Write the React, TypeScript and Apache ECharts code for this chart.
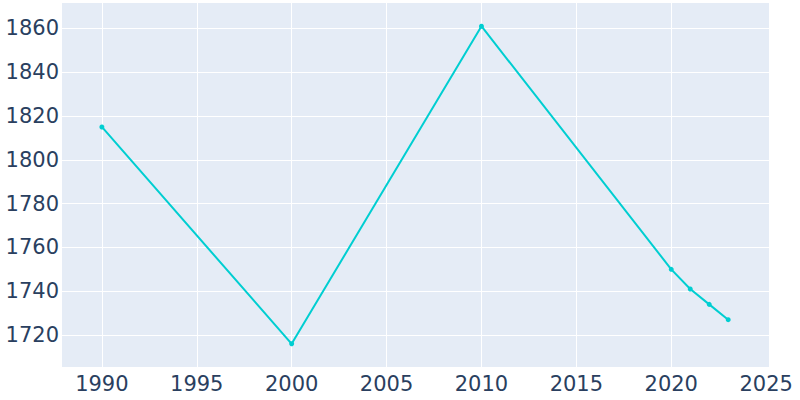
import React, { useEffect, useRef } from "react";
import * as echarts from "echarts";

const years = [1990, 2000, 2010, 2020, 2021, 2022, 2023];
const population = [1815, 1716, 1861, 1750, 1741, 1734, 1727];
const xTicks = [1990, 1995, 2000, 2005, 2010, 2015, 2020, 2025];
const xGridTicks = [1990, 1995, 2000, 2005, 2010, 2015, 2020];
const yTicks = [1720, 1740, 1760, 1780, 1800, 1820, 1840, 1860];

export default function App() {
  const ref = useRef<HTMLDivElement>(null);
  useEffect(() => {
    if (!ref.current) return;
    const chart = echarts.init(ref.current, null, { renderer: "svg" });
    const font = "DejaVu Sans";
    const fmt = (v: number) => String(Math.round(v));
    const xMin = 1987.9;
    const xMax = 2025.15;
    chart.setOption({
      animation: false,
      backgroundColor: "#ffffff",
      grid: {
        left: 62, right: 31, top: 3, bottom: 33, show: true,
        backgroundColor: "#E5ECF6", borderWidth: 0,
        containLabel: false, outerBoundsMode: "none",
      },
      xAxis: [
        {
          type: "value",
          min: xMin,
          max: xMax,
          axisLine: { show: false },
          axisTick: { show: false, customValues: xTicks },
          axisLabel: { customValues: xTicks, formatter: fmt, color: "#2a3f5f", fontSize: 21, fontFamily: font, margin: 6 },
          splitLine: { show: false },
        },
        {
          type: "value",
          position: "bottom",
          min: xMin,
          max: xMax,
          axisLine: { show: false },
          axisTick: { show: false, customValues: xGridTicks },
          axisLabel: { show: false, customValues: xGridTicks },
          splitLine: { show: true, lineStyle: { color: "#ffffff", width: 1 } },
        },
      ],
      yAxis: {
        type: "value",
        min: 1705.4,
        max: 1871.6,
        axisLine: { show: false },
        axisTick: { show: false, customValues: yTicks },
        axisLabel: { customValues: yTicks, formatter: fmt, color: "#2a3f5f", fontSize: 21, fontFamily: font, margin: 3 },
        splitLine: { show: true, lineStyle: { color: "#ffffff", width: 1 } },
      },
      series: [
        {
          type: "line",
          xAxisIndex: 0,
          data: years.map((y, i) => [y, population[i]]),
          symbol: "circle",
          symbolSize: 5,
          itemStyle: { color: "#00CED1" },
          lineStyle: { color: "#00CED1", width: 2 },
        },
      ],
    });
    return () => chart.dispose();
  }, []);
  return <div ref={ref} style={{ position: "fixed", left: 0, top: 0, width: 800, height: 400 }} />;
}
